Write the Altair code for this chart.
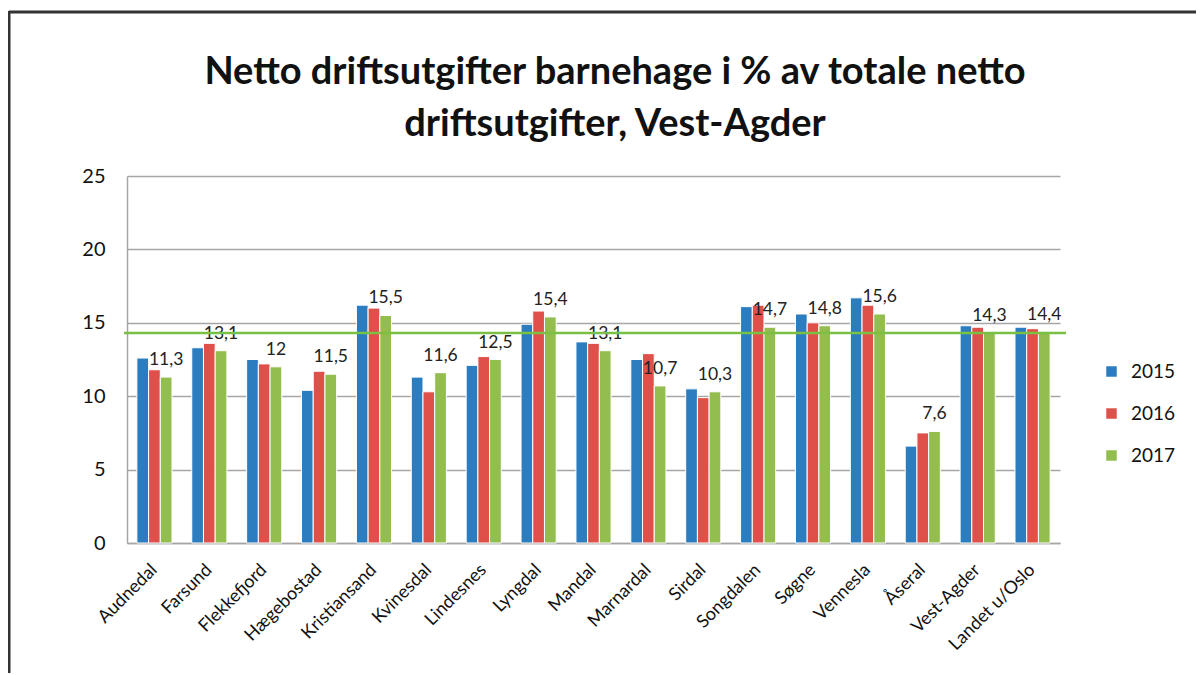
import altair as alt
import pandas as pd

categories = ["Audnedal", "Farsund", "Flekkefjord", "Hægebostad", "Kristiansand",
              "Kvinesdal", "Lindesnes", "Lyngdal", "Mandal", "Marnardal", "Sirdal",
              "Songdalen", "Søgne", "Vennesla", "Åseral", "Vest-Agder", "Landet u/Oslo"]
years = ["2015", "2016", "2017"]
v2015 = [12.6, 13.3, 12.5, 10.4, 16.2, 11.3, 12.1, 14.9, 13.7, 12.5, 10.5, 16.1, 15.6, 16.7, 6.6, 14.8, 14.7]
v2016 = [11.8, 13.6, 12.2, 11.7, 16.0, 10.3, 12.7, 15.8, 13.6, 12.9, 9.9, 16.2, 15.0, 16.2, 7.5, 14.7, 14.6]
v2017 = [11.3, 13.1, 12.0, 11.5, 15.5, 11.6, 12.5, 15.4, 13.1, 10.7, 10.3, 14.7, 14.8, 15.6, 7.6, 14.3, 14.4]
colors = ["#2b7dc0", "#e0504a", "#93bd4f"]
y_ticks = [0, 5, 10, 15, 20, 25]
title_lines = ["Netto driftsutgifter barnehage i % av totale netto",
               "driftsutgifter, Vest-Agder"]

rows = []
for yr, vals in zip(years, [v2015, v2016, v2017]):
    for c, v in zip(categories, vals):
        rows.append({"kommune": c, "year": yr, "value": v,
                     "label": f"{v:g}".replace(".", ",")})
df = pd.DataFrame(rows)

ref_value = v2017[categories.index("Vest-Agder")]
ref_df = pd.DataFrame({"ref": [ref_value]})
dummy = pd.DataFrame({"d": [0]})

FONT = "Lato"
W, H = 933, 367

x_enc = alt.X("kommune:N", sort=categories,
              scale=alt.Scale(paddingInner=0.36, paddingOuter=0.18),
              axis=alt.Axis(title=None, labelAngle=-45, labelAlign="right",
                            labelBaseline="middle", ticks=False, labelPadding=24,
                            labelFontSize=18, labelFont=FONT, labelColor="#111",
                            domainColor="#a6a6a6", domainWidth=1.5, grid=False))
y_enc = alt.Y("value:Q", scale=alt.Scale(domain=[0, 25], nice=False),
              axis=alt.Axis(title=None, values=y_ticks, grid=True, gridColor="#a6a6a6",
                            gridWidth=1.5, ticks=False, labelPadding=22, labelFontSize=20,
                            labelFont=FONT, labelColor="#111", domainColor="#a6a6a6",
                            domainWidth=1.5))
xo_enc = alt.XOffset("year:N", scale=alt.Scale(domain=years, paddingInner=0))

bars = alt.Chart(df).mark_bar(stroke="white", strokeWidth=1).encode(
    x=x_enc, y=y_enc, xOffset=xo_enc,
    color=alt.Color("year:N", scale=alt.Scale(domain=years, range=colors),
                    legend=alt.Legend(title=None, orient="none", legendX=975, legendY=186,
                                      direction="vertical", symbolType="square",
                                      symbolSize=110, symbolStrokeWidth=0,
                                      labelFontSize=19, labelFont=FONT, labelColor="#111",
                                      rowPadding=22, labelOffset=10)),
)

labels = alt.Chart(df).transform_filter(alt.datum.year == "2017").mark_text(
    baseline="alphabetic", dy=-12, fontSize=17.5, font=FONT, color="#222"
).encode(x=alt.X("kommune:N", sort=categories), y="value:Q",
         xOffset=alt.XOffset("year:N"), text="label:N")

ref_line = alt.Chart(ref_df).mark_rule(color="#79c043", strokeWidth=2.5).encode(
    y="ref:Q", x=alt.value(-3), x2=alt.value(W + 6))

frame_top = alt.Chart(dummy).mark_rule(color="#333333", strokeWidth=3).encode(
    x=alt.value(-118), x2=alt.value(1100), y=alt.value(-164))
frame_left = alt.Chart(dummy).mark_rule(color="#333333", strokeWidth=3).encode(
    x=alt.value(-118), y=alt.value(-165), y2=alt.value(600))

title1 = alt.Chart(dummy).mark_text(
    text=title_lines[0], fontSize=38, font=FONT, fontWeight="bold", color="#111",
    align="center", baseline="middle").encode(x=alt.value(488), y=alt.value(-103))
title2 = alt.Chart(dummy).mark_text(
    text=title_lines[1], fontSize=38, font=FONT, fontWeight="bold", color="#111",
    align="center", baseline="middle").encode(x=alt.value(488), y=alt.value(-51))

chart = alt.layer(frame_top, frame_left, title1, title2, bars, labels, ref_line).properties(
    width=W, height=H,
    padding={"left": 119, "top": 168, "right": 136, "bottom": 130},
    autosize=alt.AutoSizeParams(type="none"),
).configure_view(stroke=None)

chart.save("out.html", embed_options={"renderer": "svg", "actions": False})
